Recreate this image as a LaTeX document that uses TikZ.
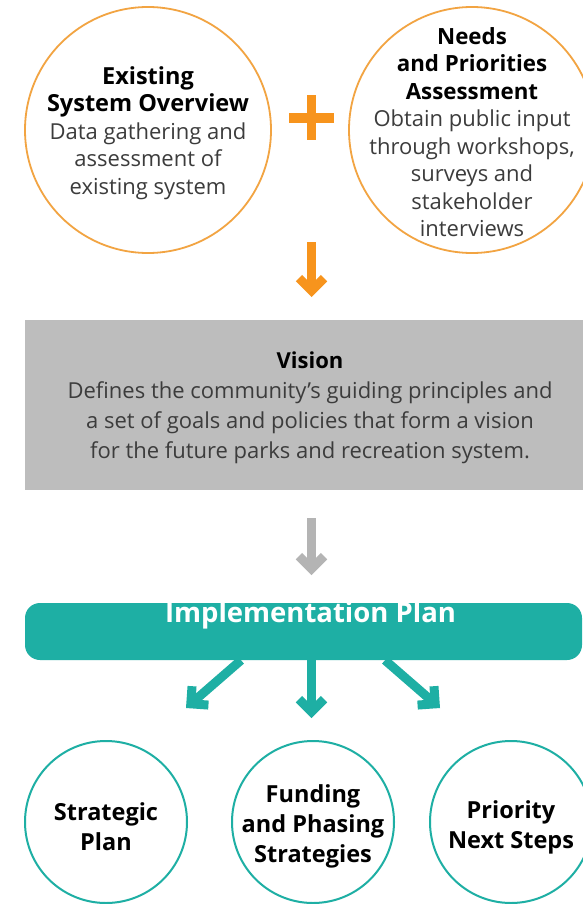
\documentclass[tikz,border=0pt]{standalone}
\usepackage{fontspec}
\setmainfont{Open Sans}
\usetikzlibrary{arrows.meta}
\definecolor{orangeline}{HTML}{F2A442}
\definecolor{orangefill}{HTML}{F7941D}
\definecolor{visiongray}{HTML}{BDBDBD}
\definecolor{arrowgray}{HTML}{B4B4B4}
\definecolor{teal}{HTML}{1EAFA4}
\definecolor{bodygray}{HTML}{3C3C3C}
\tikzset{
  orangecirc/.style={circle, draw=orangeline, line width=1.8pt, minimum size=246pt, inner sep=0pt},
  tealcirc/.style={circle, draw=teal, line width=2pt, minimum size=162pt, inner sep=0pt},
  circtext/.style={align=center, inner sep=0pt, font=\fontsize{22}{27.5}\selectfont, text=bodygray},
  bottext/.style={align=center, inner sep=0pt, font=\fontsize{23.5}{30}\selectfont\bfseries, text=black},
  fatarrow/.style={line width=9pt, -{Straight Barb[length=12.5pt,width=25pt]}},
}
\newcommand{\lefttitle}[1]{\textcolor{black}{\fontsize{23.5}{27.5}\selectfont\bfseries #1}}
\newcommand{\righttitle}[1]{\textcolor{black}{\fontsize{22.3}{27.5}\selectfont\bfseries #1}}
\begin{document}
\begin{tikzpicture}[x=1pt,y=-1pt]
\useasboundingbox (0,0) rectangle (582,904);
\fill[white] (0,0) rectangle (582,904);

% top circles
\node[orangecirc] (exist) at (148,130) {};
\node[circtext] (existtxt) at (148,133) {\lefttitle{Existing}\\\lefttitle{System Overview}\\Data gathering and\\assessment of\\existing system};
\node[orangecirc] (needs) at (472,130) {};
\node[circtext] (needstxt) at (472,132) {\righttitle{Needs}\\\righttitle{and Priorities}\\\righttitle{Assessment}\\Obtain public input\\through workshops,\\surveys and\\stakeholder\\interviews};

% plus sign
\node[fill=orangefill, minimum width=45pt, minimum height=9.5pt, inner sep=0pt] (plush) at (311.5,118) {};
\node[fill=orangefill, minimum width=9.5pt, minimum height=45pt, inner sep=0pt] (plusv) at (311.5,118) {};

% orange arrow
\coordinate (oa1) at (311.5,242);
\coordinate (oa2) at (311.5,297);
\draw[fatarrow, draw=orangefill] (oa1) -- (oa2);

% vision box
\node[fill=visiongray, minimum width=562pt, minimum height=170pt, inner sep=0pt] (vision) at (306,405) {};
\node[align=center, inner sep=0pt, font=\fontsize{22}{30}\selectfont, text=bodygray] (visiontxt) at (310,408)
  {\textcolor{black}{\bfseries Vision}\\Defines the community’s guiding principles and\\a set of goals and policies that form a vision\\for the future parks and recreation system.};

% gray arrow
\coordinate (ga2) at (311.5,575);
\draw[fatarrow, draw=arrowgray] ([xshift=5.5pt]vision.south |- 0,518) -- (ga2);

% implementation bar
\node[fill=teal, rounded corners=15pt, minimum width=557pt, minimum height=57pt, inner sep=0pt] (impl) at (303.5,631.5) {};
\node[text=white, font=\fontsize{27.5}{32}\selectfont\bfseries, inner sep=0pt] (impltxt) at (310.5,615) {Implementation Plan};

% bottom circles
\node[tealcirc] (strat) at (106,822) {};
\node[bottext] (strattxt) at (106,827) {Strategic\\Plan};
\node[tealcirc] (fund) at (313,822) {};
\node[bottext] (fundtxt) at (313,826) {Funding\\and Phasing\\Strategies};
\node[tealcirc] (prio) at (511,822) {};
\node[bottext] (priotxt) at (511,827) {Priority\\Next Steps};

% teal arrows
\coordinate (t1) at (186,708);
\coordinate (t2) at (311.5,718);
\coordinate (t3) at (440,708);
\draw[fatarrow, draw=teal] (impl.south -| 241,0) -- (t1);
\draw[fatarrow, draw=teal] (impl.south -| 311.5,0) -- (t2);
\draw[fatarrow, draw=teal] (impl.south -| 385,0) -- (t3);
\end{tikzpicture}
\end{document}
